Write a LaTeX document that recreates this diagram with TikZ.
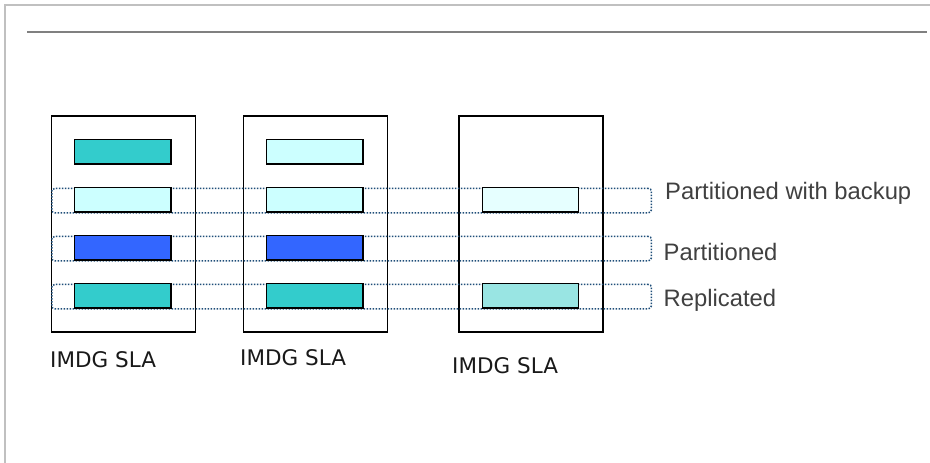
\documentclass[tikz,border=0pt]{standalone}
\usepackage{fontspec}
\setmainfont{Liberation Sans}
\newfontfamily\imdgfont{DejaVu Sans}
\begin{document}
\begin{tikzpicture}[x=1pt,y=-1pt,
  server/.style={draw=black, line width=1.6pt, fill=white, minimum width=144pt, minimum height=215.7pt, anchor=north west, inner sep=0pt},
  slot/.style={draw=black, line width=1.3pt, minimum width=96.3pt, minimum height=24.3pt, inner sep=0pt},
  band/.style={draw=dotblue, line width=1.5pt, dash pattern=on 1.5pt off 1.5pt, rounded corners=3pt, minimum width=599.7pt, minimum height=24.3pt, anchor=north west, inner sep=0pt},
  lbl/.style={anchor=west, text=labelgray, font=\fontsize{23.8}{26}\selectfont, inner sep=0pt},
  slalbl/.style={anchor=west, text=black!90, font=\imdgfont\fontsize{21.5}{24}\selectfont, inner sep=0pt}]
\definecolor{dotblue}{HTML}{1F4E79}
\definecolor{teal1}{HTML}{33CCCC}
\definecolor{cyan1}{HTML}{CCFFFF}
\definecolor{blue1}{HTML}{3366FF}
\definecolor{cyan2}{HTML}{E6FFFF}
\definecolor{teal2}{HTML}{99E5E3}
\definecolor{labelgray}{HTML}{404040}
\definecolor{framegray}{HTML}{C0C0C0}
\definecolor{rulegray}{HTML}{808080}
\useasboundingbox (0,0) rectangle (930,463);
% frame
\coordinate (ftl) at (5,4.5);
\coordinate (ftr) at (930,4.5);
\coordinate (fbl) at (5,463);
\draw[framegray, line width=2pt] (fbl) -- (ftl) -- (ftr);
\coordinate (rl) at (27,32);
\coordinate (rr) at (927,32);
\draw[rulegray, line width=2pt] (rl) -- (rr);
% servers
\node[server] (s1) at (50.7,115.3) {};
\node[server] (s2) at (242.7,115.3) {};
\node[server] (s3) at (458.3,115.3) {};
% bands
\node[band] (b1) at (51,187.7) {};
\node[band] (b2) at (51,235.7) {};
\node[band] (b3) at (51,283.7) {};
% slots
\node[slot, fill=teal1] (s1a) at (122.85,151.8) {};
\node[slot, fill=cyan1] (s1b) at (122.85,199.8) {};
\node[slot, fill=blue1] (s1c) at (122.85,247.8) {};
\node[slot, fill=teal1] (s1d) at (122.85,295.8) {};
\node[slot, fill=cyan1] (s2a) at (314.8,151.8) {};
\node[slot, fill=cyan1] (s2b) at (314.8,199.8) {};
\node[slot, fill=blue1] (s2c) at (314.8,247.8) {};
\node[slot, fill=teal1] (s2d) at (314.8,295.8) {};
\node[slot, fill=cyan2] (s3b) at (530.5,199.8) {};
\node[slot, fill=teal2] (s3d) at (530.5,295.8) {};
% labels
\node[lbl] (l1) at (665,193) {Partitioned with backup};
\node[lbl] (l2) at (663.5,252) {Partitioned};
\node[lbl] (l3) at (663.5,300) {Replicated};
\node[slalbl] (n1) at (50,360) {IMDG SLA};
\node[slalbl] (n2) at (240,358) {IMDG SLA};
\node[slalbl] (n3) at (452,366) {IMDG SLA};
\end{tikzpicture}
\end{document}
